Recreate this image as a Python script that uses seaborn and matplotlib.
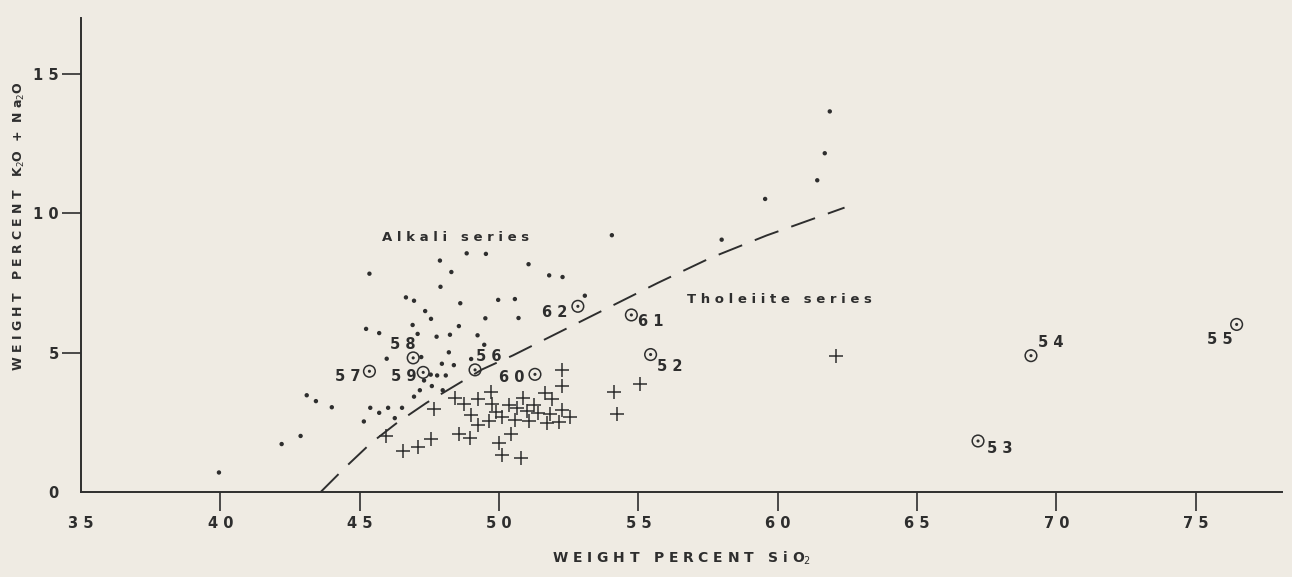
"""
Alkali vs tholeiite series: total alkalis against silica.
"""

import matplotlib
matplotlib.use("Agg")
import matplotlib.pyplot as plt
import pandas as pd
import seaborn as sns

# ── Data ──────────────────────────────────────────────────────────────
alkali_sio2 = [39.95, 42.2, 42.88, 43.10, 43.43, 44.0, 45.15, 45.38, 45.70, 46.02,
               46.52, 46.26, 46.95, 47.16, 47.98, 47.59, 47.31, 47.55, 47.78, 48.09,
               47.95, 48.38, 49.0, 47.21, 45.97, 48.2, 49.47, 49.23, 48.24, 47.76,
               47.08, 46.90, 45.70, 45.23, 48.56, 47.56, 49.51, 50.70, 47.35, 46.66,
               46.95, 48.61, 49.97, 50.57, 47.9, 45.35, 48.29, 51.80, 52.28, 47.88,
               48.84, 49.53, 51.06, 53.08, 54.05, 57.99, 59.55, 61.42, 61.69, 61.87]
alkali_total = [0.70, 1.72, 2.01, 3.47, 3.26, 3.04, 2.53, 3.02, 2.84, 3.02,
                3.02, 2.65, 3.42, 3.65, 3.65, 3.80, 4.00, 4.21, 4.18, 4.18,
                4.60, 4.55, 4.77, 4.84, 4.78, 5.01, 5.28, 5.62, 5.64, 5.57,
                5.67, 5.99, 5.70, 5.85, 5.95, 6.21, 6.23, 6.24, 6.49, 6.98,
                6.86, 6.77, 6.89, 6.92, 7.36, 7.83, 7.89, 7.77, 7.71, 8.30,
                8.56, 8.54, 8.17, 7.04, 9.21, 9.05, 10.51, 11.18, 12.15, 13.65]

thol_sio2 = [45.94, 46.57, 47.11, 47.56, 47.67, 48.42, 48.74, 49.23, 49.70, 49.76,
             50.87, 50.36, 50.65, 51.25, 51.0, 51.66, 51.89, 52.26, 52.55, 51.41,
             51.83, 52.16, 51.74, 51.06, 50.58, 50.09, 49.88, 49.63, 49.0, 49.26,
             48.55, 48.96, 50.42, 49.99, 50.11, 50.8, 52.27, 52.27, 54.11, 54.22,
             55.07, 62.09]
thol_total = [2.01, 1.47, 1.62, 1.91, 2.97, 3.37, 3.16, 3.35, 3.58, 3.15,
              3.37, 3.12, 3.02, 3.13, 2.92, 3.54, 3.32, 2.95, 2.68, 2.83,
              2.79, 2.51, 2.46, 2.54, 2.59, 2.68, 2.87, 2.55, 2.77, 2.39,
              2.07, 1.95, 2.07, 1.77, 1.33, 1.22, 4.39, 3.79, 3.60, 2.79,
              3.88, 4.88]

sample_ids = ["52", "53", "54", "55", "56", "57", "58", "59", "60", "61", "62"]
sample_sio2 = [55.44, 67.19, 69.09, 76.47, 49.14, 45.35, 46.92, 47.28, 51.29, 54.75, 52.83]
sample_total = [4.93, 1.83, 4.89, 6.01, 4.38, 4.33, 4.81, 4.29, 4.22, 6.35, 6.66]

boundary_sio2 = [43.6, 44.5, 45.4, 46.3, 47.4, 48.4, 49.4, 50.5, 51.6, 52.7,
                 53.6, 55.7, 57.6, 59.6, 62.4]
boundary_total = [0.0, 0.9, 1.75, 2.45, 3.2, 3.8, 4.4, 4.9, 5.45, 6.0,
                  6.45, 7.5, 8.4, 9.2, 10.2]

x_ticks = [35, 40, 45, 50, 55, 60, 65, 70, 75]
y_ticks = [0, 5, 10, 15]

# ── Style ─────────────────────────────────────────────────────────────
INK = "#2e2e2e"
PAPER = "#efebe3"

sns.set_style("ticks")
plt.rcParams["font.family"] = ["DejaVu Sans"]

fig = plt.figure(figsize=(12.92, 5.77), dpi=100, facecolor=PAPER)
ax = fig.add_axes([0.0627, 0.1473, 0.9296, 0.8215], facecolor=PAPER)

samples = pd.DataFrame({"id": sample_ids, "sio2": sample_sio2, "total": sample_total})

sns.lineplot(x=boundary_sio2, y=boundary_total, sort=False, ax=ax,
             color=INK, linewidth=1.4, dashes=False)
ax.lines[-1].set_dashes([13, 7])

sns.scatterplot(x=alkali_sio2, y=alkali_total, ax=ax, marker="o", s=10,
                color=INK, edgecolor="none")
sns.scatterplot(x=thol_sio2, y=thol_total, ax=ax, marker="+", s=100,
                color=INK, linewidth=1.1)
sns.scatterplot(data=samples, x="sio2", y="total", ax=ax, marker="o", s=70,
                facecolor="none", edgecolor=INK, linewidth=1.1)
sns.scatterplot(data=samples, x="sio2", y="total", ax=ax, marker="o", s=5,
                color=INK, edgecolor="none")

# label offsets in pixels for each sample number
label_offsets = {"52": (19, -12), "53": (22, -8), "54": (20, 13), "55": (-17, -15),
                 "56": (14, 13), "57": (-22, -5), "58": (-10, 13), "59": (-19, -4),
                 "60": (-23, -3), "61": (19, -7), "62": (-23, -6)}
for _, row in samples.iterrows():
    ax.annotate(" ".join(row["id"]), (row["sio2"], row["total"]),
                xytext=label_offsets[row["id"]], textcoords="offset pixels",
                ha="center", va="center", fontsize=10.5, fontweight="bold",
                color=INK)

ax.text(48.45, 9.11, "A l k a l i   s e r i e s", ha="center", va="center",
        fontsize=9.5, fontweight="bold", color=INK)
ax.text(60.08, 6.89, "T h o l e i i t e   s e r i e s", ha="center", va="center",
        fontsize=9.5, fontweight="bold", color=INK)

# ── Axes ──────────────────────────────────────────────────────────────
ax.set_xlim(35, 78.1)
ax.set_ylim(0, 17.0)
ax.set_xticks(x_ticks)
ax.set_xticklabels([" ".join(str(t)) for t in x_ticks])
ax.set_yticks(y_ticks)
ax.set_yticklabels([" ".join(str(t)) for t in y_ticks])
ax.tick_params(axis="both", direction="out", length=14, width=1.2, color=INK,
               labelcolor=INK, labelsize=10.5)
ax.tick_params(axis="x", pad=3)
ax.tick_params(axis="y", pad=2)
for lab in ax.get_xticklabels() + ax.get_yticklabels():
    lab.set_fontweight("bold")
ax.xaxis.get_major_ticks()[0].tick1line.set_visible(False)
ax.yaxis.get_major_ticks()[0].tick1line.set_visible(False)

sns.despine(ax=ax)
for side in ["left", "bottom"]:
    ax.spines[side].set_color(INK)
    ax.spines[side].set_linewidth(1.4)

ax.set_xlabel("W E I G H T   P E R C E N T   S i O$_2$", fontsize=10,
              fontweight="bold", color=INK, labelpad=14)
ax.set_ylabel("W E I G H T   P E R C E N T   K$_2$O  +  N a$_2$O", fontsize=9,
              fontweight="bold", color=INK)
ax.yaxis.set_label_coords(-0.045, 0.56)

fig.savefig("out.png", dpi=100, facecolor=PAPER)
